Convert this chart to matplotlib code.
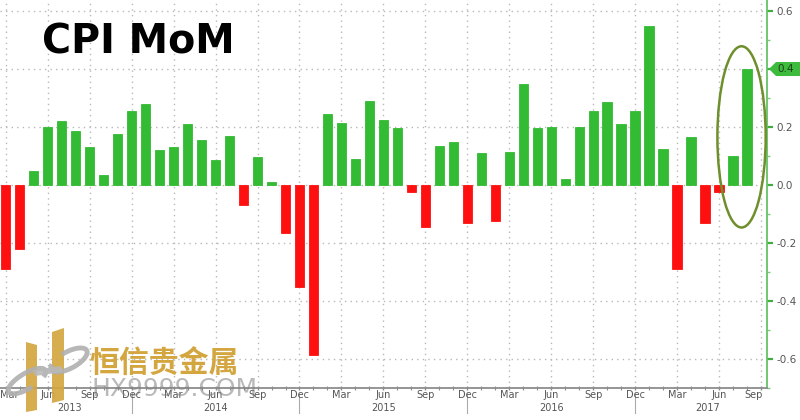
import matplotlib
matplotlib.use("Agg")
import matplotlib.pyplot as plt
import matplotlib.transforms as mtransforms
from matplotlib.patches import Ellipse, Polygon, Arc
import numpy as np
import pandas as pd

# ---------------- data ----------------
start_month = "2013-03"
values = [
    -0.29, -0.22, 0.05, 0.20, 0.22, 0.185, 0.13, 0.035, 0.175, 0.255, 0.28, 0.12, 0.13, 0.21, 0.155,
    0.085, 0.17, -0.07, 0.095, 0.01, -0.165, -0.35, -0.585, 0.245, 0.215, 0.09, 0.29, 0.225, 0.195,
    -0.025, -0.145, 0.135, 0.15, -0.13, 0.11, -0.125, 0.115, 0.35, 0.195, 0.20, 0.02, 0.20,
    0.255, 0.285, 0.21, 0.255, 0.55, 0.125, -0.29, 0.165, -0.13, -0.025, 0.10, 0.40,
]
years = [2013, 2014, 2015, 2016, 2017]
y_ticks = [-0.6, -0.4, -0.2, 0.0, 0.2, 0.4, 0.6]
last_value_label = "0.4"
title = "CPI MoM"
watermark_cn = "恒信贵金属"
watermark_en = "HX9999.COM"

dates = pd.date_range(start_month, periods=len(values) + 1, freq="MS")
x = np.arange(len(values))

W, H = 800, 420
fig = plt.figure(figsize=(8, 4.2), dpi=100)
fig.patch.set_facecolor("white")
ax = fig.add_axes([0, 1 - 388 / H, 767 / W, 388 / H])

GREEN = "#33bb33"
RED = "#ff1010"
colors = [GREEN if v >= 0 else RED for v in values]
ax.bar(x, values, width=0.68, color=colors, edgecolor=colors, linewidth=0.6, zorder=3)

ax.set_xlim(-0.41, len(values) + 0.42)
ax.set_ylim(-0.70, 0.638)

# spines
for s in ["top", "left"]:
    ax.spines[s].set_visible(False)
ax.spines["bottom"].set_color("#8c8c8c")
ax.spines["bottom"].set_linewidth(1.3)
ax.spines["right"].set_color("#66c266")
ax.spines["right"].set_linewidth(1.3)

# y axis on right
ax.yaxis.tick_right()
ax.set_yticks(y_ticks)
ax.set_yticks(np.arange(-0.7, 0.65, 0.1), minor=True)
ylabels = [("%.1f" % t if abs(t - 0.4) > 1e-9 else "") for t in y_ticks]
ax.set_yticklabels(ylabels)
ax.tick_params(axis="y", which="major", colors="#3fae3f", length=4, width=1.6,
               direction="out", labelsize=7.5, labelcolor="#555555", pad=3)
ax.tick_params(axis="y", which="minor", colors="#7ccc7c", length=2, width=1.0, direction="out")

# x ticks: quarterly major, monthly minor
tick_idx = list(range(0, len(values) + 1, 3))
ax.set_xticks(tick_idx)
ax.set_xticks(np.arange(0, len(values) + 1), minor=True)
ax.set_xticklabels([])
ax.tick_params(axis="x", which="major", colors="#8c8c8c", length=3, width=1.0, direction="inout")
ax.tick_params(axis="x", which="minor", colors="#8c8c8c", length=3, width=0.8, direction="inout")

# grid
ax.grid(True, which="major", axis="both", color="#b8b8b8", linestyle=(0, (1, 3)), linewidth=1.0, zorder=0)
ax.set_axisbelow(True)

# month labels
trans = mtransforms.blended_transform_factory(ax.transData, fig.transFigure)
for i in tick_idx:
    lab = dates[i].strftime("%b")
    dx = 0
    if i == 0:
        dx = 4
    if i == tick_idx[-1]:
        dx = -8
    ax.text(i + dx / 13.99, 1 - 395 / H, lab, transform=trans, ha="center", va="center",
            fontsize=7, color="#555555", clip_on=False)

# year separators and labels
dec_idx = [i for i in range(len(values)) if dates[i].month == 12]
bounds = [ax.get_xlim()[0]] + dec_idx + [ax.get_xlim()[1] + 1.0]
for d in dec_idx:
    ax.plot([d, d], [1 - 393 / H, 1 - 413 / H], transform=trans, color="#aaaaaa",
            linewidth=0.8, clip_on=False)
for k, yr in enumerate(years):
    cx = (bounds[k] + bounds[k + 1]) / 2
    if k == 0:
        cx += 0.3
    ax.text(cx, 1 - 408 / H, str(yr), transform=trans, ha="center", va="center",
            fontsize=7, color="#555555", clip_on=False)

# highlighted last value on the right axis (arrow-shaped tag)
y_pix = ax.transData.transform((0, values[-1]))[1]  # display px from bottom
def fpx(xp, yp_from_bottom):
    return (xp / W, yp_from_bottom / H)
tag = Polygon([fpx(769, y_pix), fpx(776, y_pix + 7), fpx(800, y_pix + 7),
               fpx(800, y_pix - 7), fpx(776, y_pix - 7)], closed=True,
              transform=fig.transFigure, fc="#3dbb3d", ec="none", zorder=6)
fig.patches.append(tag)
fig.text(777 / W, y_pix / H, last_value_label, fontsize=7.5, color="#1d3d1d",
         ha="left", va="center", zorder=7)

# ellipse around last two bars
ax.add_patch(Ellipse((52.6, 0.166), 3.45, 0.625, fill=False, ec="#6e8f2c", lw=1.8, zorder=5))

# title
fig.text(42 / W, 1 - 42 / H, title, fontsize=28.5, fontweight="bold", color="black",
         family="DejaVu Sans", va="center", ha="left")

# watermark
def px(xp, yp):
    return (xp / W, 1 - yp / H)

gold = "#d3a640"
fig.patches.append(Polygon([px(26, 342), px(37, 345), px(37, 410), px(26, 412)], closed=True,
                           transform=fig.transFigure, fc=gold, ec="none", alpha=0.92, zorder=7))
fig.patches.append(Polygon([px(52, 332), px(64, 328), px(64, 400), px(52, 403)], closed=True,
                           transform=fig.transFigure, fc=gold, ec="none", alpha=0.92, zorder=7))
fig.patches.append(Arc(px(27, 381), 22 / W, 30 / H, angle=-35, theta1=60, theta2=330,
                       transform=fig.transFigure, color="#b0b0b0", lw=3.5, alpha=0.9, zorder=8))
fig.patches.append(Arc(px(69, 360), 24 / W, 28 / H, angle=-35, theta1=-120, theta2=160,
                       transform=fig.transFigure, color="#b0b0b0", lw=3.5, alpha=0.9, zorder=8))
fig.patches.append(Polygon([px(33, 370), px(61, 366), px(63, 372), px(35, 376)], closed=True,
                           transform=fig.transFigure, fc="#b8b8b8", ec="none", alpha=0.9, zorder=8))
fig.text(89 / W, 1 - 364 / H, watermark_cn, fontsize=21.5, color=gold, fontweight="bold",
         family=["Noto Sans CJK SC", "DejaVu Sans"], va="center", ha="left", zorder=9)
fig.text(91 / W, 1 - 389 / H, watermark_en, fontsize=18, color="#808080", alpha=0.55,
         family="DejaVu Sans", va="center", ha="left", zorder=9)

fig.savefig("out.png", dpi=100, facecolor="white")
